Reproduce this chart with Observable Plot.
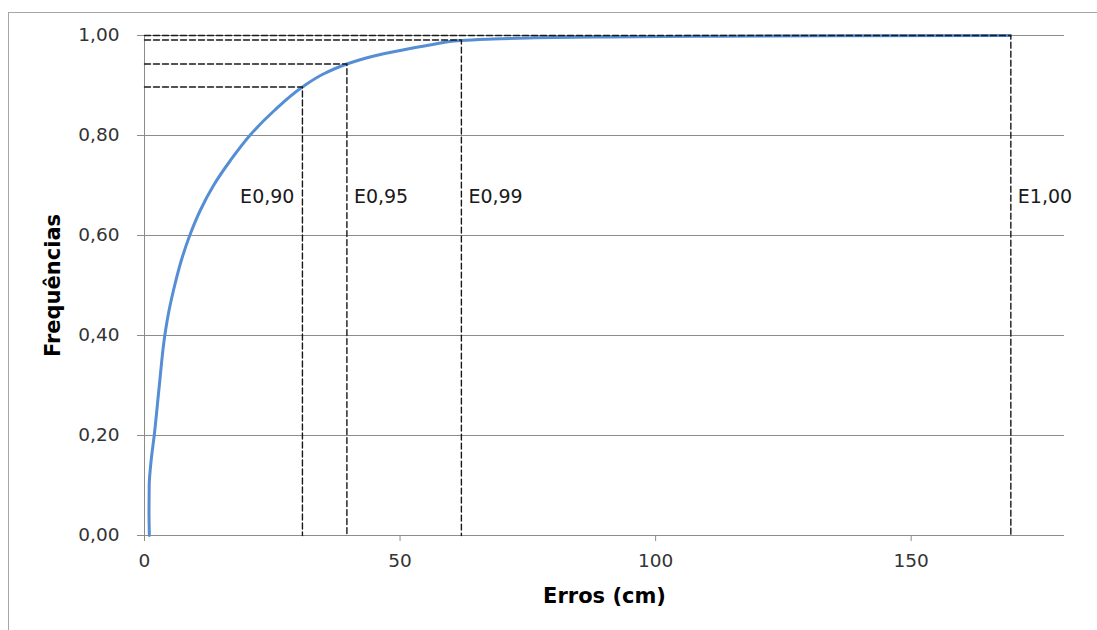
<!DOCTYPE html>
<html><head><meta charset="utf-8">
<script src="https://cdn.jsdelivr.net/npm/d3@7"></script>
<script src="https://cdn.jsdelivr.net/npm/@observablehq/plot@0.6"></script>
<style>
html,body{margin:0;padding:0;background:#fff;overflow:hidden;width:1097px;height:630px;}
#frame{position:absolute;left:8px;top:12px;width:2000px;height:2000px;border-left:1px solid #a6a6a6;border-top:1px solid #a6a6a6;}
#chart{position:absolute;left:0;top:0;}
</style></head><body><div id="frame"></div><div id="chart"></div>
<script>
// Cumulative frequency curve of errors (cm)
const curveX = [0.95, 0.88, 0.92, 1.3, 1.9, 2.9, 3.97, 4.8, 5.9, 7.2, 8.85, 10.9, 13.5, 16.8, 20.6, 25.4, 30.9, 35.0, 39.6, 44.5, 50.0, 55.8, 62.0, 67, 75, 88, 108, 135, 169.5];
const curveY = [0.0, 0.05, 0.10, 0.15, 0.20, 0.30, 0.40, 0.45, 0.50, 0.55, 0.60, 0.65, 0.70, 0.75, 0.80, 0.85, 0.897, 0.923, 0.943, 0.958, 0.970, 0.981, 0.990, 0.9925, 0.995, 0.997, 0.9985, 0.9995, 1.0];

// Error quantile markers
const eLabels = ["E0,90", "E0,95", "E0,99", "E1,00"];
const eX = [30.9, 39.6, 62.0, 169.5];
const eP = [0.897, 0.943, 0.991, 1.0];

const yTicks = [0, 0.2, 0.4, 0.6, 0.8, 1.0];
const xTicks = [0, 50, 100, 150];
const xLabel = "Erros (cm)";
const yLabel = "Frequências";

const curve = curveX.map((x, i) => ({x, y: curveY[i]}));
const guides = eLabels.flatMap((k, i) => [
  {k, x: 0, y: eP[i]},
  {k, x: eX[i], y: eP[i]},
  {k, x: eX[i], y: 0}
]);
const labelLevel = 0.677;
const labels = eLabels.map((k, i) => ({k, x: eX[i], y: labelLevel, first: i === 0}));

const grid = "#8c8c8c";
const font = "'DejaVu Sans', 'Liberation Sans', sans-serif";
const fmt = d => d.toFixed(2).replace(".", ",");

const chart = Plot.plot({
  width: 1097,
  height: 630,
  marginLeft: 144,
  marginRight: 33,
  marginTop: 35,
  marginBottom: 95,
  x: {domain: [0, 180]},
  y: {domain: [0, 1]},
  style: {fontFamily: font, background: "transparent", overflow: "visible"},
  marks: [
    Plot.gridY({ticks: yTicks, stroke: grid, strokeOpacity: 1}),
    Plot.axisY({ticks: yTicks, tickSize: 7, tickPadding: 18, tickFormat: fmt, stroke: grid, fill: "#333", fontSize: 18.5, label: null}),
    Plot.ruleX([0], {stroke: grid}),
    Plot.axisX({ticks: xTicks, tickSize: 6, tickPadding: 12, stroke: grid, fill: "#333", fontSize: 18.5, label: null}),
    Plot.line(curve, {x: "x", y: "y", curve: "monotone-y", stroke: "#558ed5", strokeWidth: 3}),
    Plot.line(guides, {x: "x", y: "y", z: "k", stroke: "#1a1a1a", strokeWidth: 1.4, strokeDasharray: "6,3"}),
    Plot.text(labels.filter(d => d.first), {x: "x", y: "y", text: "k", textAnchor: "end", dx: -8, fontSize: 19, fill: "#1a1a1a"}),
    Plot.text(labels.filter(d => !d.first), {x: "x", y: "y", text: "k", textAnchor: "start", dx: 7, fontSize: 19, fill: "#1a1a1a"}),
    Plot.text([xLabel], {frameAnchor: "bottom", textAnchor: "middle", lineAnchor: "middle", dy: 61, fontWeight: "bold", fontSize: 21, fill: "#000"}),
    Plot.text([yLabel], {frameAnchor: "left", textAnchor: "middle", lineAnchor: "middle", dx: -91, rotate: -90, fontWeight: "bold", fontSize: 21, fill: "#000"})
  ]
});
document.getElementById("chart").appendChild(chart);
</script>
</body></html>
